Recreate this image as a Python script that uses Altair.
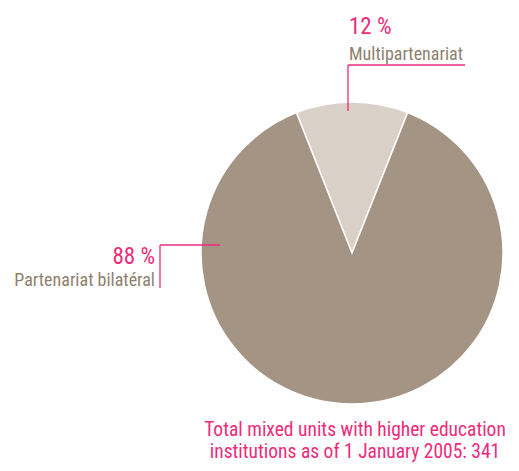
import altair as alt
import pandas as pd

categories = ["Multipartenariat", "Partenariat bilatéral"]
shares = [12, 88]
slice_colors = ["#D9D0C8", "#A39483"]
pct_labels = [f"{v} %" for v in shares]
title_lines = ["Total mixed units with higher education",
               "institutions as of 1 January 2005: 341"]

FONT = "Roboto Condensed, Arial Narrow, Liberation Sans Narrow, DejaVu Sans Condensed, sans-serif"
PINK = "#EC2C7A"
GREY = "#8E7F6F"

df = pd.DataFrame({"category": categories, "share": shares, "order": [0, 1]})

start = -0.377  # radians: small slice centered at the top
pie = alt.Chart(df).mark_arc(stroke="white", strokeWidth=1.5).encode(
    theta=alt.Theta("share:Q", stack=True,
                    scale=alt.Scale(range=[start, start + 6.283185])),
    color=alt.Color("category:N", scale=alt.Scale(domain=categories, range=slice_colors),
                    legend=None),
    order=alt.Order("order:Q"),
    x=alt.value(344), y=alt.value(245),
    radius=alt.value(151),
)

def txt(text, x, y, size, color, align):
    return alt.Chart(pd.DataFrame({"t": [text]})).mark_text(
        font=FONT, fontSize=size, color=color, align=align, baseline="alphabetic"
    ).encode(text="t:N", x=alt.value(x), y=alt.value(y))

def seg(x1, y1, x2, y2):
    return alt.Chart(pd.DataFrame({"a": [0]})).mark_rule(color=PINK, strokeWidth=1.3).encode(
        x=alt.value(x1), x2=alt.value(x2), y=alt.value(y1), y2=alt.value(y2))

layers = [
    pie,
    seg(340, 57, 340, 103), seg(340, 57, 457, 57),
    seg(152, 237, 212, 237), seg(152, 237, 152, 280),
    txt(pct_labels[0], 341, 26, 23, PINK, "left"),
    txt(categories[0], 341, 52, 18, GREY, "left"),
    txt(pct_labels[1], 147, 256, 23, PINK, "right"),
    txt(categories[1], 147, 278, 18, GREY, "right"),
    txt(title_lines[0], 347, 428, 19.5, PINK, "center"),
    txt(title_lines[1], 347, 450, 19.5, PINK, "center"),
]

chart = alt.layer(*layers).properties(
    width=503, height=455, padding=0, autosize=alt.AutoSizeParams(type="none")
).configure_view(stroke=None)

chart.save("out.html", embed_options={"renderer": "svg", "actions": False})
